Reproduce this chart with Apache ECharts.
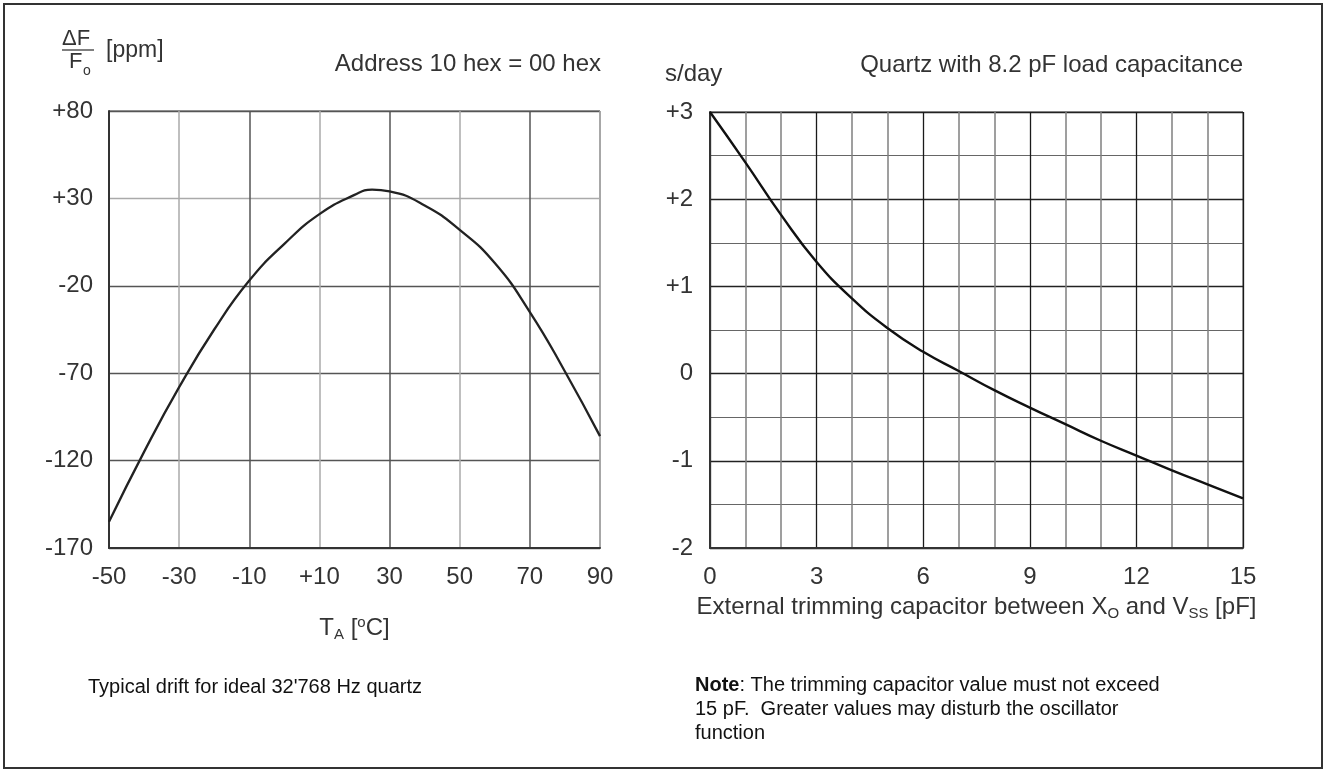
<!DOCTYPE html>
<html><head><meta charset="utf-8">
<script src="https://cdn.jsdelivr.net/npm/echarts@6/dist/echarts.min.js"></script>
<style>html,body{margin:0;padding:0;background:#fff}#c{width:1329px;height:774px}</style>
</head><body><div id="c"></div>
<script>
// Left chart: typical drift of ideal 32'768 Hz quartz
const driftTemps = [-50, -40, -30, -20, -10, 0, 10, 20, 25, 30, 40, 50, 60, 70, 80, 90];
const driftPpm   = [-155, -115, -78, -45, -17, 4, 21, 32, 35, 34, 26, 12, -7, -35, -69, -106];
const leftXLabels = ['-50', '-30', '-10', '+10', '30', '50', '70', '90'];
const leftYLabels = ['-170', '-120', '-70', '-20', '+30', '+80'];

// Right chart: s/day vs external trimming capacitor
const trimPf   = [0, 1, 2, 3, 4, 5, 6, 7, 8, 9, 10, 11, 12, 13, 14, 15];
const trimSday = [3.0, 2.42, 1.82, 1.28, 0.86, 0.52, 0.25, 0.03, -0.19, -0.39, -0.58, -0.77, -0.94, -1.11, -1.27, -1.43];
const rightXLabels = ['0', '3', '6', '9', '12', '15'];
const rightYLabels = ['-2', '-1', '0', '+1', '+2', '+3'];

const FONT = 'Liberation Sans, Arial, Helvetica, sans-serif';
const TXT = '#333';
const FS = 24;
const FS_NOTE = 20;

function labelFrom(labels, min, interval) {
  return function (v) {
    const i = Math.round((v - min) / interval);
    return labels[i] !== undefined ? labels[i] : '';
  };
}

const chart = echarts.init(document.getElementById('c'), null, { renderer: 'canvas' });

const axisLabelBase = { color: TXT, fontSize: FS, fontFamily: FONT };

chart.setOption({
  animation: false,
  backgroundColor: '#fff',
  grid: [
    { left: 109, top: 111, width: 491, height: 437, show: true, borderColor: '#444', borderWidth: 1, containLabel: false },
    { left: 710, top: 112, width: 533, height: 436, show: true, borderColor: '#444', borderWidth: 1, containLabel: false }
  ],
  xAxis: [
    {
      type: 'value', gridIndex: 0, min: -50, max: 90, interval: 20,
      axisLine: { show: true, onZero: false, lineStyle: { color: '#333', width: 2 } },
      axisTick: { show: false },
      axisLabel: Object.assign({}, axisLabelBase, { margin: 17, formatter: labelFrom(leftXLabels, -50, 20) }),
      splitLine: { show: true, lineStyle: { color: ['#555', '#aaa'], width: 1.5 } },
      name: '{t|T}{s|A}{t| [}{p|o}{t|C]}',
      nameLocation: 'middle', nameGap: 67,
      nameTextStyle: {
        rich: {
          t: { fontSize: FS, color: TXT, fontFamily: FONT },
          s: { fontSize: 15, color: TXT, fontFamily: FONT, verticalAlign: 'bottom', padding: [12, 0, 0, 0] },
          p: { fontSize: 15, color: TXT, fontFamily: FONT, verticalAlign: 'top', padding: [0, 0, 10, 0] }
        }
      }
    },
    {
      type: 'value', gridIndex: 1, min: 0, max: 15, interval: 3,
      axisLine: { show: true, onZero: false, lineStyle: { color: '#333', width: 2 } },
      axisTick: { show: false },
      minorTick: { show: false, splitNumber: 3 },
      axisLabel: Object.assign({}, axisLabelBase, { margin: 17, formatter: labelFrom(rightXLabels, 0, 3) }),
      splitLine: { show: true, lineStyle: { color: '#1a1a1a', width: 1.3 } },
      minorSplitLine: { show: true, lineStyle: { color: '#808080', width: 1.5 } },
      name: '{t|External trimming capacitor between X}{s|O}{t| and V}{s|SS}{t| [pF]}',
      nameLocation: 'middle', nameGap: 46,
      nameTextStyle: {
        rich: {
          t: { fontSize: FS, color: TXT, fontFamily: FONT },
          s: { fontSize: 15, color: TXT, fontFamily: FONT, verticalAlign: 'bottom', padding: [12, 0, 0, 0] }
        }
      }
    }
  ],
  yAxis: [
    {
      type: 'value', gridIndex: 0, min: -170, max: 80, interval: 50,
      axisLine: { show: true, onZero: false, lineStyle: { color: '#333', width: 2 } },
      axisTick: { show: false },
      axisLabel: Object.assign({}, axisLabelBase, { margin: 16, formatter: labelFrom(leftYLabels, -170, 50) }),
      splitLine: { show: true, lineStyle: { color: ['#555', '#555', '#555', '#555', '#aaa', '#555'], width: 1.3 } }
    },
    {
      type: 'value', gridIndex: 1, min: -2, max: 3, interval: 1,
      axisLine: { show: true, onZero: false, lineStyle: { color: '#333', width: 2 } },
      axisTick: { show: false },
      minorTick: { show: false, splitNumber: 2 },
      axisLabel: Object.assign({}, axisLabelBase, { margin: 17, formatter: labelFrom(rightYLabels, -2, 1) }),
      splitLine: { show: true, lineStyle: { color: '#222', width: 1.4 } },
      minorSplitLine: { show: true, lineStyle: { color: '#666', width: 1.2 } }
    }
  ],
  series: [
    {
      type: 'line', xAxisIndex: 0, yAxisIndex: 0,
      data: driftTemps.map((t, i) => [t, driftPpm[i]]),
      smooth: true, showSymbol: false, symbol: 'none',
      lineStyle: { color: '#222', width: 2.3 }
    },
    {
      type: 'line', xAxisIndex: 1, yAxisIndex: 1,
      data: trimPf.map((c, i) => [c, trimSday[i]]),
      smooth: true, showSymbol: false, symbol: 'none',
      lineStyle: { color: '#111', width: 2.4 }
    }
  ],
  graphic: [
    { type: 'rect', shape: { x: 4, y: 4, width: 1318, height: 764 }, style: { fill: 'none', stroke: '#333', lineWidth: 2 }, silent: true },
    // dF/Fo [ppm]
    { type: 'text', left: 62, top: 28, style: { text: 'ΔF', fontSize: 22, fill: TXT, fontFamily: FONT } },
    { type: 'line', shape: { x1: 62, y1: 50, x2: 94, y2: 50 }, style: { stroke: '#555', lineWidth: 1.5 } },
    { type: 'text', left: 69, top: 51, style: { text: 'F', fontSize: 22, fill: TXT, fontFamily: FONT } },
    { type: 'text', left: 83, top: 64, style: { text: 'o', fontSize: 14, fill: TXT, fontFamily: FONT } },
    { type: 'text', left: 106, top: 39, style: { text: '[ppm]', fontSize: 23, fill: TXT, fontFamily: FONT } },
    { type: 'text', right: 1329 - 601, top: 52, style: { text: 'Address 10 hex = 00 hex', fontSize: FS, fill: TXT, fontFamily: FONT, align: 'right' } },
    { type: 'text', left: 665, top: 62, style: { text: 's/day', fontSize: FS, fill: TXT, fontFamily: FONT } },
    { type: 'text', right: 1329 - 1243, top: 53, style: { text: 'Quartz with 8.2 pF load capacitance', fontSize: FS, fill: TXT, fontFamily: FONT, align: 'right' } },
    { type: 'text', left: 88, top: 677, style: { text: "Typical drift for ideal 32'768 Hz quartz", fontSize: FS_NOTE, fill: '#111', fontFamily: FONT } },
    {
      type: 'text', left: 695, top: 675,
      style: {
        text: '{b|Note}{n|: The trimming capacitor value must not exceed}\n{n|15 pF.  Greater values may disturb the oscillator}\n{n|function}',
        fontFamily: FONT, fill: '#111',
        rich: {
          b: { fontSize: FS_NOTE, fontWeight: 'bold', fill: '#111', fontFamily: FONT, lineHeight: 24 },
          n: { fontSize: FS_NOTE, fill: '#111', fontFamily: FONT, lineHeight: 24 }
        }
      }
    }
  ]
});
</script>
</body></html>
